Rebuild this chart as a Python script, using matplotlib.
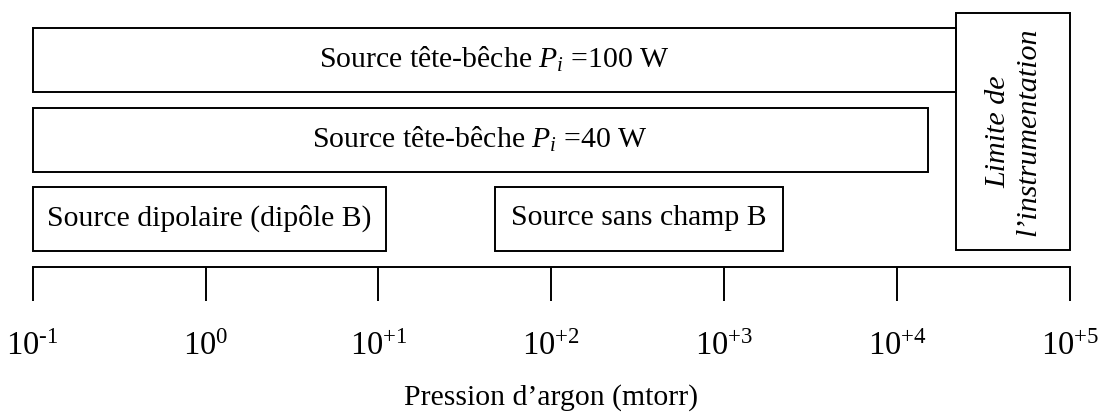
import math
import matplotlib
matplotlib.use("Agg")
import matplotlib.pyplot as plt
from matplotlib.patches import Rectangle

plt.rcParams["font.family"] = ["Liberation Serif", "DejaVu Serif"]
plt.rcParams["mathtext.fontset"] = "custom"
plt.rcParams["mathtext.rm"] = "Liberation Serif"
plt.rcParams["mathtext.it"] = "Liberation Serif:italic"

# Operating ranges of each source (argon pressure, mtorr)
labels = [
    "Source tête-bêche $P_i$ =100 W",
    "Source tête-bêche $P_i$ =40 W",
    "Source dipolaire (dipôle B)",
    "Source sans champ B",
]
p_min = [0.1, 0.1, 0.1, 47]
p_max = [2.2e4, 1.5e4, 11, 2200]
rows = [0, 1, 2, 2]

# Instrumentation limit range
limit_label = "Limite de\nl’instrumentation"
limit_min, limit_max = 2.2e4, 1.0e5

# Axis decades
exponents = [-1, 0, 1, 2, 3, 4, 5]
tick_text = ["10$^{\\text{-}1}$", "10$^{0}$", "10$^{+1}$", "10$^{+2}$",
             "10$^{+3}$", "10$^{+4}$", "10$^{+5}$"]
xlabel = "Pression d’argon (mtorr)"


def log_mid(a, b):
    return 10 ** ((math.log10(a) + math.log10(b)) / 2)


W, H = 1103, 413
fig = plt.figure(figsize=(W / 100, H / 100), dpi=100)

# Canvas axes: log x, y measured in pixels from the top
x0_px, x1_px = 32.6, 1070.0
dec = (x1_px - x0_px) / 6
ax = fig.add_axes([0, 0, 1, 1])
ax.set_xscale("log")
ax.set_xlim(10 ** (-1 - x0_px / dec), 10 ** (5 + (W - x1_px) / dec))
ax.set_ylim(H, 0)
ax.axis("off")

row_top = [28, 108, 187]
row_h = 64
lw = 1.4
for lab, a, b, r in zip(labels, p_min, p_max, rows):
    y0 = row_top[r]
    ax.add_patch(Rectangle((a, y0), b - a, row_h, fill=False,
                           edgecolor="black", linewidth=lw))
    ax.text(log_mid(a, b), y0 + row_h / 2 - 1, lab, ha="center", va="center",
            fontsize=21.4)

lim_top, lim_bot = 13, 250
ax.add_patch(Rectangle((limit_min, lim_top), limit_max - limit_min,
                       lim_bot - lim_top, fill=False, edgecolor="black",
                       linewidth=lw))
ax.text(log_mid(limit_min, limit_max), (lim_top + lim_bot) / 2, limit_label,
        rotation=90, ha="center", va="center", fontsize=21.6, style="italic",
        linespacing=1.2, multialignment="center")

# Pressure axis
axis_y = 267
axp = fig.add_axes([x0_px / W, 1 - axis_y / H, (x1_px - x0_px) / W, 0.001])
axp.set_xscale("log")
axp.set_xlim(10.0 ** exponents[0], 10.0 ** exponents[-1])
axp.set_yticks([])
for s in ("top", "left", "right"):
    axp.spines[s].set_visible(False)
axp.spines["bottom"].set_linewidth(lw)
axp.set_xticks([10.0 ** e for e in exponents])
axp.set_xticklabels(tick_text)
axp.minorticks_off()
axp.tick_params(axis="x", direction="out", length=24.5, width=lw,
                pad=22, labelsize=23.5)
axp.set_xlabel(xlabel, fontsize=21.4, labelpad=16)
axp.patch.set_visible(False)

fig.savefig("out.png", dpi=100)
